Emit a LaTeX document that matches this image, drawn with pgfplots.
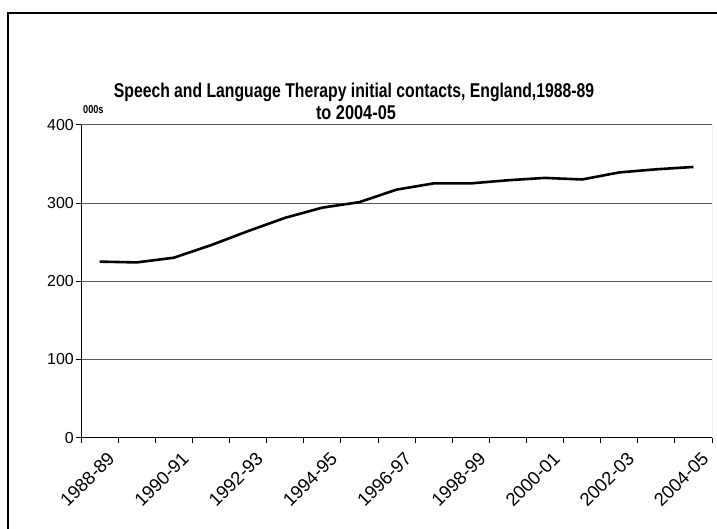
\documentclass[border=0pt]{standalone}
\usepackage{pgfplots}
\pgfplotsset{compat=1.18}
\usepackage{fontspec}
\setmainfont{Liberation Sans}
\begin{document}
\begin{tikzpicture}[x=1bp,y=1bp]
\useasboundingbox (-81,-91.3) rectangle (636,437.7);
\draw[line width=1.5bp] (-73,424.7) rectangle (720,-200);
\begin{axis}[
  at={(0,0)}, anchor=south west,
  scale only axis, width=631bp, height=313bp,
  xmin=-0.5, xmax=16.5, ymin=0, ymax=400,
  ytick={0,100,...,400},
  ymajorgrids, grid style={draw=black!65, line width=0.8bp},
  axis line style={draw=none},
  xtick pos=bottom, ytick pos=left,
  xtick={-0.5,0.5,...,16.5}, xticklabels={},
  extra x ticks={0,2,...,16},
  extra x tick labels={1988-89,1990-91,1992-93,1994-95,1996-97,1998-99,2000-01,2002-03,2004-05},
  extra x tick style={major tick length=0pt, grid=none},
  tick align=outside, major tick length=5bp,
  tick style={black, line width=0.8bp},
  xticklabel style={font=\fontsize{18.5}{18.5}\selectfont, xshift=7bp, yshift=-13bp, rotate=45, anchor=north east, inner sep=0pt},
  yticklabel style={font=\fontsize{16}{16}\selectfont, inner sep=0pt, xshift=-2bp},
  /pgf/number format/assume math mode=true,
]
\addplot[black, line width=2.6bp, mark=none] coordinates {
(0,225) (1,224) (2,230) (3,246) (4,264) (5,281) (6,294) (7,301) (8,317)
(9,325) (10,325) (11,329) (12,332) (13,330) (14,339) (15,343) (16,346)
};
\draw[black, line width=0.8bp] (rel axis cs:0,1) -- (rel axis cs:0,0) -- (rel axis cs:1,0);
\draw[black!55, line width=0.8bp] (rel axis cs:1,0) -- (rel axis cs:1,1);
\end{axis}
\node[font=\bfseries\fontsize{20}{20}\selectfont, xscale=0.79, anchor=base] at (273,340.2) {Speech and Language Therapy initial contacts, England,1988-89};
\node[font=\bfseries\fontsize{20}{20}\selectfont, xscale=0.82, anchor=base] at (275,318.2) {to 2004-05};
\node[font=\bfseries\fontsize{11.5}{11.5}\selectfont, xscale=0.8, anchor=base west, inner sep=0pt] at (2,324) {000s};
\end{tikzpicture}
\end{document}
